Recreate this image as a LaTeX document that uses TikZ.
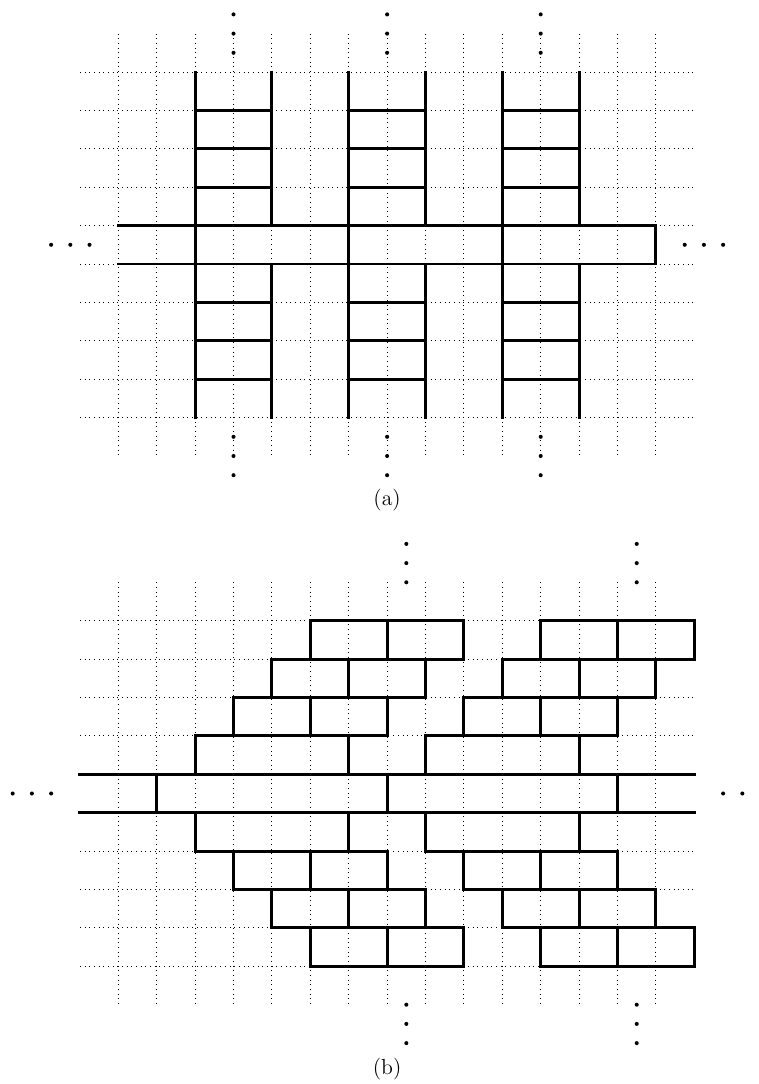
\documentclass[tikz,border=0pt]{standalone}
\begin{document}
\begin{tikzpicture}[x=0.866cm,y=-0.866cm,
  gridline/.style={line width=0.6pt, dash pattern=on 0.6pt off 2.4pt},
  wall/.style={line width=1.9pt, line cap=rect, line join=miter},
  pt/.style={fill=black},
  lab/.style={font=\fontsize{14}{17}\selectfont}]
\useasboundingbox (-3.081,-1.875) rectangle (16.659,26.354);
% ---------- panel (a) ----------
\begin{scope}
  \foreach \y in {0,...,9} \draw[gridline] (-1,\y) -- (15,\y);
  \foreach \x in {0,...,14} \draw[gridline] (\x,-1) -- (\x,10);
  \foreach \a in {2,6,10} {
    \draw[wall] (\a,0) -- (\a,9);
    \draw[wall] ({\a+2},0) -- ({\a+2},4) ({\a+2},5) -- ({\a+2},9);
    \foreach \y in {1,2,3,6,7,8} \draw[wall] (\a,\y) -- ({\a+2},\y);
  }
  \draw[wall] (0,4) -- (14,4) -- (14,5) -- (0,5);
  \foreach \x in {3,7,11} \foreach \y in {-0.5,-1,-1.5,9.5,10,10.5}
    \fill[pt] (\x,\y) circle (1.3pt);
  \foreach \x in {-1.75,-1.25,-0.75,14.75,15.25,15.75}
    \fill[pt] (\x,4.5) circle (1.3pt);
  \node[lab] (la) at (7,11.14) {(a)};
\end{scope}
% ---------- panel (b) ----------
\begin{scope}[shift={(0,14.289)}]
  \foreach \y in {0,...,9} \draw[gridline] (-1,\y) -- (15,\y);
  \foreach \x in {0,...,14} \draw[gridline] (\x,-1) -- (\x,10);
  \foreach \r in {0,1,2} {
    \pgfmathtruncatemacro{\s}{5-\r}
    \foreach \g in {0,6} {
      \draw[wall] ({\s+\g},\r) rectangle ({\s+\g+4},{\r+1});
      \draw[wall] ({\s+\g+2},\r) -- ({\s+\g+2},{\r+1});
      \draw[wall] ({\s+\g},{8-\r}) rectangle ({\s+\g+4},{9-\r});
      \draw[wall] ({\s+\g+2},{8-\r}) -- ({\s+\g+2},{9-\r});
    }
  }
  \draw[wall] (2,3) rectangle (6,4);
  \draw[wall] (8,3) rectangle (12,4);
  \draw[wall] (2,5) rectangle (6,6);
  \draw[wall] (8,5) rectangle (12,6);
  \draw[wall] (-1,4) -- (15,4);
  \draw[wall] (-1,5) -- (15,5);
  \foreach \x in {1,7,13} \draw[wall] (\x,4) -- (\x,5);
  \foreach \x in {7.5,13.5} \foreach \y in {-1,-1.5,-2,10,10.5,11}
    \fill[pt] (\x,\y) circle (1.3pt);
  \foreach \x in {-2.75,-2.25,-1.75,15.75,16.25}
    \fill[pt] (\x,4.5) circle (1.3pt);
  \node[lab] (lb) at (7,11.67) {(b)};
\end{scope}
\end{tikzpicture}
\end{document}
